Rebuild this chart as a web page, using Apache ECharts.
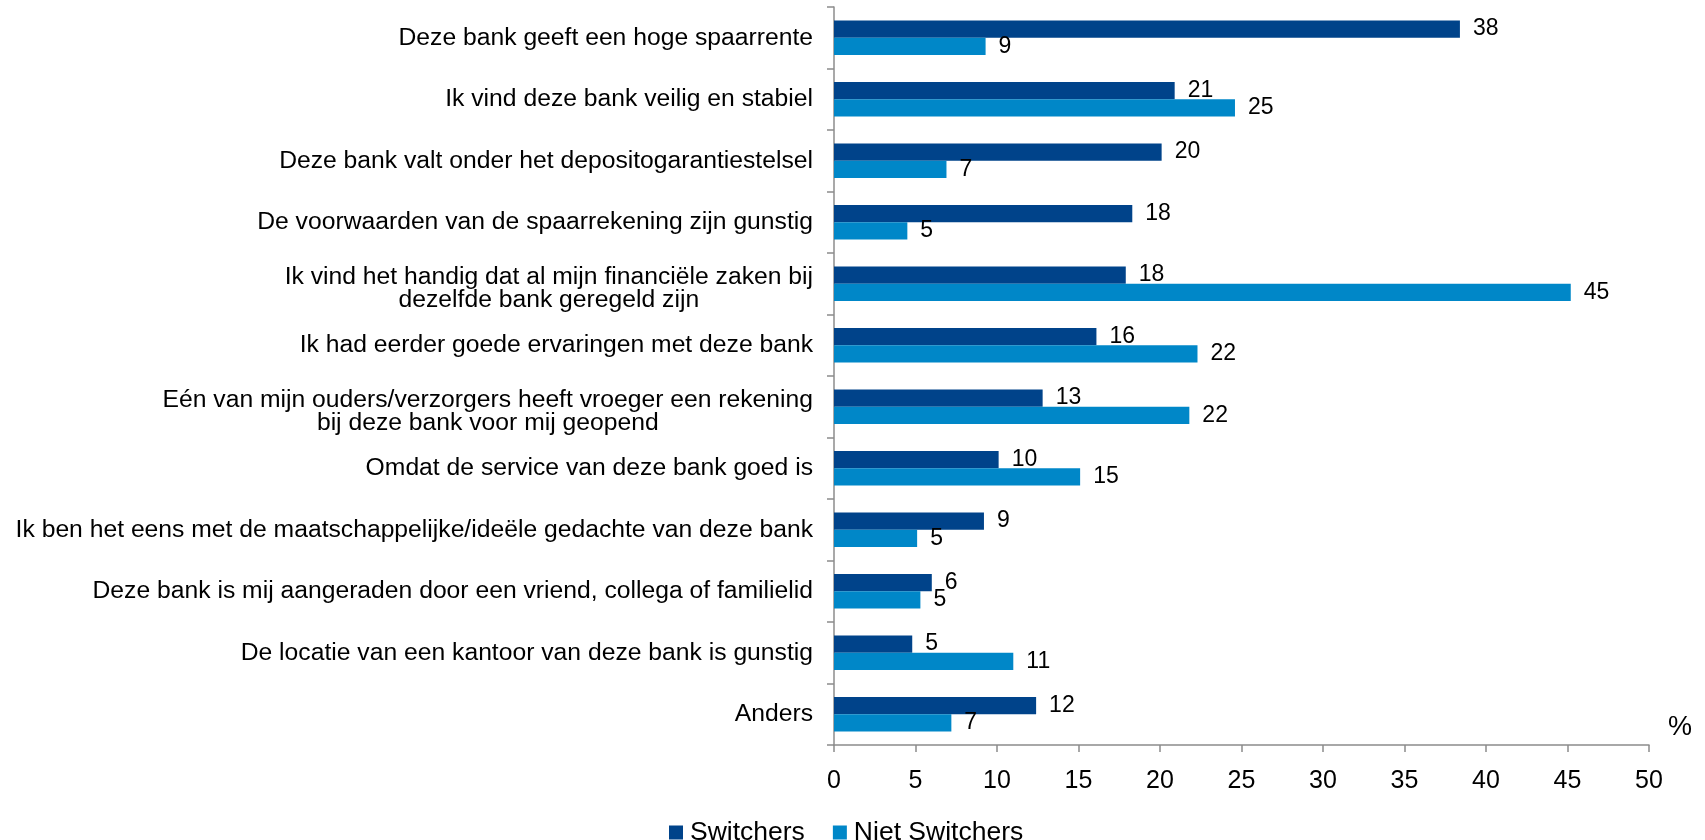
<!DOCTYPE html>
<html>
<head>
<meta charset="utf-8">
<script src="https://cdn.jsdelivr.net/npm/echarts@6/dist/echarts.min.js"></script>
<style>
  html, body { margin: 0; padding: 0; background: #fff; }
  #chart { width: 1705px; height: 840px; }
</style>
</head>
<body>
<div id="chart"></div>
<script>
var categories = [
    'Deze bank geeft een hoge spaarrente',
    'Ik vind deze bank veilig en stabiel',
    'Deze bank valt onder het depositogarantiestelsel',
    'De voorwaarden van de spaarrekening zijn gunstig',
    'Ik vind het handig dat al mijn financiële zaken bij\ndezelfde bank geregeld zijn',
    'Ik had eerder goede ervaringen met deze bank',
    'Eén van mijn ouders/verzorgers heeft vroeger een rekening\nbij deze bank voor mij geopend',
    'Omdat de service van deze bank goed is',
    'Ik ben het eens met de maatschappelijke/ideële gedachte van deze bank',
    'Deze bank is mij aangeraden door een vriend, collega of familielid',
    'De locatie van een kantoor van deze bank is gunstig',
    'Anders'
];
var switchers     = [38.4, 20.9, 20.1, 18.3, 17.9, 16.1, 12.8, 10.1, 9.2, 6.0, 4.8, 12.4];
var nietSwitchers = [9.3, 24.6, 6.9, 4.5, 45.2, 22.3, 21.8, 15.1, 5.1, 5.3, 11.0, 7.2];
var seriesNames   = ['Switchers', 'Niet Switchers'];

var font = 'Liberation Sans, Arial, sans-serif';
var axisGray = '#8c8c8c';

var valueLabel = {
    show: true,
    position: 'right',
    distance: 13,
    color: '#000',
    fontFamily: font,
    fontSize: 23,
    formatter: function (p) { return Math.round(p.value); }
};

// two-line labels sit a little lower in the original
var yData = categories.map(function (c) {
    if (c.indexOf('\n') < 0) return c;
    return { value: c, textStyle: { padding: [10, 0, 0, 0] } };
});

echarts.init(document.getElementById('chart')).setOption({
    animation: false,
    grid: {
        left: 834,
        right: 56,
        top: 7,
        bottom: 95
    },
    legend: {
        data: seriesNames,
        left: 664,
        top: 814,
        icon: 'rect',
        itemWidth: 14,
        itemHeight: 14,
        itemGap: 28,
        textStyle: {
            color: '#000',
            fontFamily: font,
            fontSize: 26.5,
            padding: [0, 0, 0, 2]
        }
    },
    xAxis: {
        type: 'value',
        min: 0,
        max: 50,
        interval: 5,
        name: '%',
        nameLocation: 'end',
        nameGap: 19,
        nameTextStyle: {
            color: '#000',
            fontFamily: font,
            fontSize: 27,
            verticalAlign: 'bottom',
            padding: [0, 0, 4, 0]
        },
        splitLine: { show: false },
        axisLine: { show: true, lineStyle: { color: axisGray, width: 1.5 } },
        axisTick: { show: true, length: 7, lineStyle: { color: axisGray, width: 1.5 } },
        axisLabel: {
            color: '#000',
            fontFamily: font,
            fontSize: 25,
            margin: 24
        }
    },
    yAxis: {
        type: 'category',
        inverse: true,
        data: yData,
        axisLine: { show: true, lineStyle: { color: axisGray, width: 1.5 } },
        axisTick: { show: true, length: 7, lineStyle: { color: axisGray, width: 1.5 } },
        axisLabel: {
            color: '#000',
            fontFamily: font,
            fontSize: 24.7,
            margin: 21,
            lineHeight: 23,
            formatter: function (v) {
                return v.split('\n').map(function (s) { return '{c|' + s + '}'; }).join('\n');
            },
            rich: {
                c: {
                    align: 'center',
                    color: '#000',
                    fontFamily: font,
                    fontSize: 24.7,
                    lineHeight: 23
                }
            }
        }
    },
    series: [
        {
            name: seriesNames[0],
            type: 'bar',
            data: switchers,
            barGap: '0%',
            barCategoryGap: '44%',
            itemStyle: { color: '#00438a' },
            label: valueLabel
        },
        {
            name: seriesNames[1],
            type: 'bar',
            data: nietSwitchers,
            barGap: '0%',
            barCategoryGap: '44%',
            itemStyle: { color: '#0087c8' },
            label: valueLabel
        }
    ]
});
</script>
</body>
</html>
